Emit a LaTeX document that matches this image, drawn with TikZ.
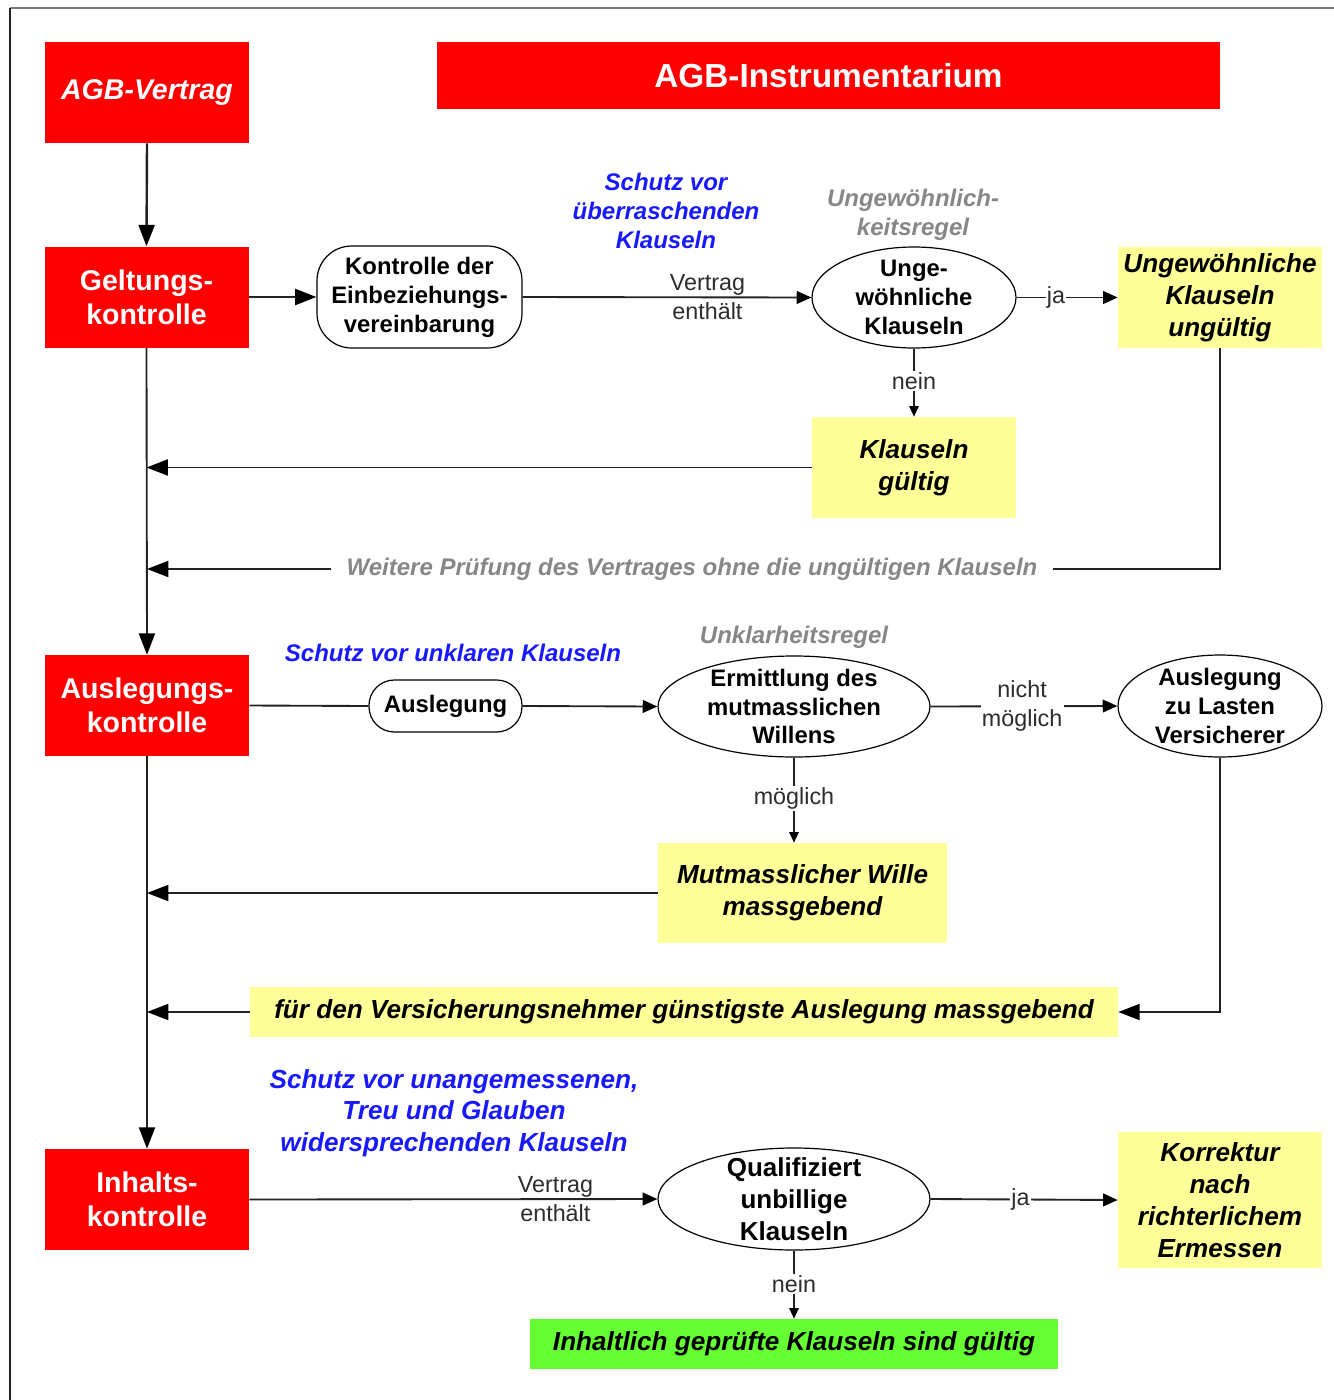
\documentclass[tikz,border=0pt]{standalone}
\usepackage{fontspec}
\setmainfont{Liberation Sans}
\usetikzlibrary{shapes.geometric,arrows.meta}

\definecolor{agbred}{RGB}{255,0,0}
\definecolor{agbyellow}{RGB}{255,255,153}
\definecolor{agbgreen}{RGB}{102,255,51}
\definecolor{agbblue}{RGB}{25,25,255}
\definecolor{rulegray}{RGB}{135,135,135}
\definecolor{edgetext}{RGB}{45,45,45}
\definecolor{linegray}{RGB}{35,35,35}
\definecolor{framegray}{RGB}{120,120,120}

\newcommand\setfsz[2]{\fontsize{#1}{#2}\selectfont}

\tikzset{
  redbox/.style={fill=agbred, text=white, align=center, inner sep=0pt,
    minimum width=153pt, minimum height=75.75pt,
    font=\setfsz{21.4pt}{25.5pt}\bfseries},
  yellowbox/.style={fill=agbyellow, text=black, align=center, inner sep=0pt,
    font=\setfsz{19.6pt}{24pt}\bfseries\itshape},
  roundbox/.style={draw=black, line width=0.9pt, fill=white, align=center,
    inner sep=0pt, font=\setfsz{17.9pt}{21.75pt}\bfseries},
  ellip/.style={ellipse, draw=black, line width=0.9pt, fill=white, inner sep=0pt},
  etext/.style={align=center, inner sep=0pt, font=\setfsz{17.9pt}{21.5pt}\bfseries},
  bluelbl/.style={text=agbblue, align=center, inner sep=0pt,
    font=\setfsz{18pt}{21.75pt}\bfseries\itshape},
  graylbl/.style={text=rulegray, align=center, inner sep=0pt,
    font=\setfsz{18pt}{21.75pt}\bfseries\itshape},
  elbl/.style={text=edgetext, align=center, inner sep=1pt,
    font=\setfsz{17.5pt}{21.75pt}},
  conn/.style={draw=linegray, line width=1.4pt},
  arrbig/.style={conn, -{Triangle[length=16pt,width=12pt,color=black]}},
  arrmid/.style={conn, -{Triangle[length=11pt,width=9.5pt,color=black]}},
  arrtiny/.style={conn, -{Triangle[length=8pt,width=7pt,color=black]}},
}

\begin{document}
\begin{tikzpicture}[x=0.75pt,y=-0.75pt]
% page area and frame
\fill[white] (0,0) rectangle (1334,1400);
\useasboundingbox (0,0) rectangle (1334,1400);
\draw[framegray, line width=2.2pt] (10,8) -- (1334,8);
\draw[linegray, line width=2pt] (10,8) -- (10,1400);

% --- header row ---
\node[redbox, font=\setfsz{21.4pt}{25.5pt}\bfseries\itshape] (agb) at (147,92.5) {AGB-Vertrag};
\node[redbox, minimum width=587.25pt, minimum height=50.25pt,
      font=\setfsz{25pt}{30pt}\bfseries] (title) at (828.5,75.5) {AGB-Instrumentarium};

% --- Geltungskontrolle ---
\node[redbox] (gk) at (146.5,297) {Geltungs-\\kontrolle};
\node[roundbox, rounded corners=26pt, minimum width=153.75pt, minimum height=76.5pt]
      (ke) at (419.5,297) {Kontrolle der\\Einbeziehungs-\\vereinbarung};
\node[ellip, minimum width=153pt, minimum height=75.75pt] (ug) at (914,297.5) {};
\node[etext] (ugt) at (ug.center) {Unge-\\wöhnliche\\Klauseln};
\node[yellowbox, minimum width=153pt, minimum height=75.75pt] (uu) at (1220,297.5)
      {Ungewöhnliche\\Klauseln\\ungültig};
\node[yellowbox, minimum width=153pt, minimum height=75.75pt] (kg) at (914,467.5)
      {Klauseln\\gültig};

\node[bluelbl] (bl1) at (666,211) {Schutz vor\\überraschenden\\Klauseln};
\node[graylbl] (gl1) at (913,215) {Ungewöhnlich-\\keitsregel};

% --- Auslegungskontrolle ---
\node[redbox] (ak) at (147,705.5) {Auslegungs-\\kontrolle};
\node[roundbox, rounded corners=19pt, minimum width=114.75pt, minimum height=39pt]
      (al) at (445.5,706) {Auslegung};
\node[ellip, minimum width=204pt, minimum height=75.75pt] (em) at (794,706.5) {};
\node[etext] (emt) at (em.center) {Ermittlung des\\mutmasslichen\\Willens};
\node[ellip, minimum width=153pt, minimum height=76.5pt] (lv) at (1220,706) {};
\node[etext] (lvt) at (lv.center) {Auslegung\\zu Lasten\\Versicherer};
\node[yellowbox, minimum width=216.75pt, minimum height=75pt] (mw) at (802.5,893)
      {Mutmasslicher Wille\\massgebend};
\node[yellowbox, minimum width=651pt, minimum height=37.5pt] (fv) at (684,1012)
      {für den Versicherungsnehmer günstigste Auslegung massgebend};

\node[bluelbl] (bl2) at (453,653) {Schutz vor unklaren Klauseln};
\node[graylbl] (gl2) at (794,637) {Unklarheitsregel};

% --- Inhaltskontrolle ---
\node[redbox] (ik) at (147,1199.5) {Inhalts-\\kontrolle};
\node[ellip, minimum width=204pt, minimum height=76.5pt] (qu) at (794,1199) {};
\node[etext, font=\setfsz{19.5pt}{24pt}\bfseries] (qut) at (qu.center)
      {Qualifiziert\\unbillige\\Klauseln};
\node[yellowbox, minimum width=153pt, minimum height=102pt] (ko) at (1220,1200)
      {Korrektur\\nach\\richterlichem\\Ermessen};
\node[yellowbox, fill=agbgreen, minimum width=396pt, minimum height=37.5pt] (gr)
      at (794,1344) {Inhaltlich geprüfte Klauseln sind gültig};

\node[bluelbl, font=\setfsz{19.6pt}{23.7pt}\bfseries\itshape] (bl3) at (454,1113)
      {Schutz vor unangemessenen,\\Treu und Glauben\\widersprechenden Klauseln};

% --- main trunk ---
\draw[arrbig, line width=1.8pt] (agb.south) -- (gk.north);
\draw[arrbig] (gk.south) -- (ak.north);
\draw[arrbig] (ak.south) -- (ik.north);

% --- Geltungskontrolle connectors ---
\draw[arrbig, line width=1.8pt] (gk.east) -- (ke.west);
\draw[arrmid] (ke.east) -- node[pos=0.64, elbl, inner sep=0pt] (ve1) {Vertrag\\enthält} (ug.west);
\draw[arrmid] (ug.east) -- node[pos=0.39, elbl, fill=white] (ja1) {ja} (uu.west);
\draw[arrtiny] (ug.south) -- node[pos=0.48, elbl, fill=white] (ne1) {nein} (kg.north);
\draw[arrbig] (kg.west) -- (kg.west -| gk.south);
\coordinate (wp) at (147,569);
\draw[arrbig] (uu.south) |- (wp);
\node[graylbl, fill=white, inner xsep=12pt, inner ysep=2pt] (wpl) at (692,569)
      {Weitere Prüfung des Vertrages ohne die ungültigen Klauseln};

% --- Auslegungskontrolle connectors ---
\draw[conn] (ak.east) -- (al.west);
\draw[arrmid] (al.east) -- (em.west);
\draw[arrmid] (em.east) -- node[pos=0.49, elbl, fill=white] (nm) {nicht\\möglich} (lv.west);
\draw[arrtiny] (em.south) -- node[pos=0.48, elbl, fill=white] (mg) {möglich} (mw.north -| em.south);
\draw[arrbig] (mw.west) -- (mw.west -| ak.south);
\draw[arrbig] (lv.south) |- (fv.east);
\draw[arrbig] (fv.west) -- (fv.west -| ak.south);

% --- Inhaltskontrolle connectors ---
\draw[arrmid] (ik.east) -- node[pos=0.75, elbl, inner sep=0pt] (ve2) {Vertrag\\enthält} (qu.west);
\draw[arrmid] (qu.east) -- node[pos=0.48, elbl, fill=white] (ja2) {ja} (ko.west);
\draw[arrtiny] (qu.south) -- node[pos=0.49, elbl, fill=white] (ne2) {nein} (gr.north);
\end{tikzpicture}
\end{document}
